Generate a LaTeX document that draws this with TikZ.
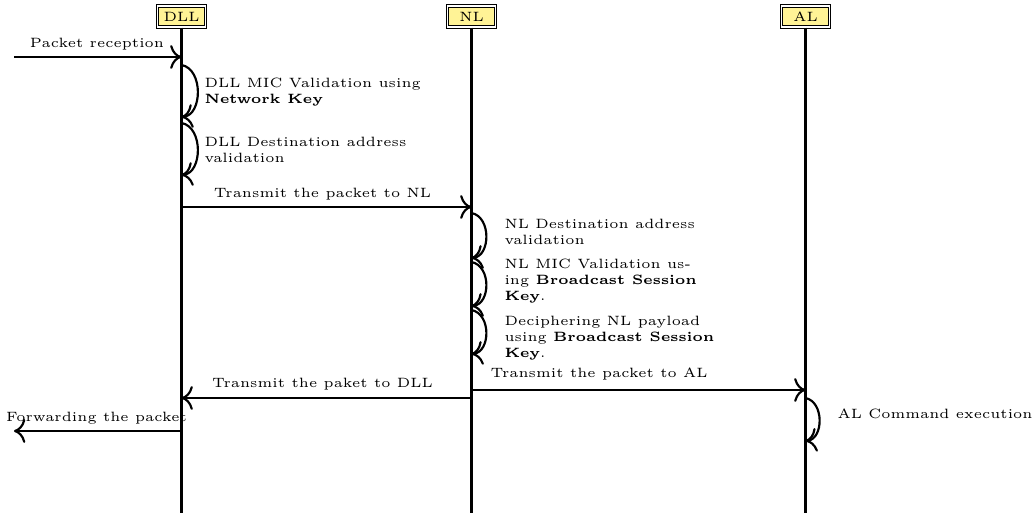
\documentclass[tikz,border=0pt]{standalone}
\usetikzlibrary{arrows.meta}
\definecolor{threadfill}{RGB}{255,243,150}
\begin{document}
\begin{tikzpicture}[x=0.3704pt,y=-0.3704pt,font=\tiny,
  thread/.style={draw, double, line width=0.4pt, double distance=0.4pt, fill=threadfill,
    minimum width=18pt, minimum height=7.8pt, inner sep=0pt},
  life/.style={line width=0.8pt},
  msg/.style={line width=0.8pt, -{Computer Modern Rightarrow[scale=1.25]}},
  lbl/.style={inner sep=0pt, align=left, anchor=north west},
  mlbl/.style={inner sep=0pt, anchor=base}]
\useasboundingbox (0,0) rectangle (1035,518);
% threads
\node[thread] (DLL) at (181.5,16.5) {DLL};
\node[thread] (NL) at (471.5,16.5) {NL};
\node[thread] (AL) at (805.5,16.5) {AL};
\coordinate (DLLend) at (181.5,513);
\coordinate (NLend) at (471.5,513);
\coordinate (ALend) at (805.5,513);
\draw[life] (DLL) -- (DLLend);
\draw[life] (NL) -- (NLend);
\draw[life] (AL) -- (ALend);
% event points
\coordinate (in0) at (14,57);   \coordinate (in1) at (181.5,57);
\coordinate (s1a) at (181.5,65);  \coordinate (s1b) at (181.5,117);
\coordinate (s2a) at (181.5,123); \coordinate (s2b) at (181.5,175);
\coordinate (t1a) at (181.5,207); \coordinate (t1b) at (471.5,207);
\coordinate (n1a) at (471.5,213); \coordinate (n1b) at (471.5,258);
\coordinate (n2a) at (471.5,262); \coordinate (n2b) at (471.5,306);
\coordinate (n3a) at (471.5,310); \coordinate (n3b) at (471.5,354);
\coordinate (t2a) at (471.5,390); \coordinate (t2b) at (805.5,390);
\coordinate (t3a) at (471.5,398); \coordinate (t3b) at (181.5,398);
\coordinate (f0) at (181.5,431);  \coordinate (f1) at (14,431);
\coordinate (a1a) at (805.5,398); \coordinate (a1b) at (805.5,441);
% messages
\draw[msg] (in0) -- (in1);
\node[mlbl] (lin) at (97,48) {Packet reception};
\draw[msg] (s1a) .. controls +(22,4) and +(21,-2) .. (s1b);
\node[lbl] (ls1) at (204,77.5) {DLL MIC Validation using\\\textbf{Network Key}};
\draw[msg] (s2a) .. controls +(22,4) and +(21,-2) .. (s2b);
\node[lbl] (ls2) at (204,136.5) {DLL Destination address\\validation};
\draw[msg] (t1a) -- (t1b);
\node[mlbl] (lt1) at (322.5,198) {Transmit the packet to NL};
\draw[msg] (n1a) .. controls +(20,4) and +(19,-2) .. (n1b);
\node[lbl] (ln1) at (504,218.5) {NL Destination address\\validation};
\draw[msg] (n2a) .. controls +(20,4) and +(19,-2) .. (n2b);
\node[lbl] (ln2) at (504,258.5) {NL MIC Validation us-\\ing \textbf{Broadcast Session}\\\textbf{Key}.};
\draw[msg] (n3a) .. controls +(20,4) and +(19,-2) .. (n3b);
\node[lbl] (ln3) at (504,315.5) {Deciphering NL payload\\using \textbf{Broadcast Session}\\\textbf{Key}.};
\draw[msg] (t2a) -- (t2b);
\node[inner sep=0pt, anchor=base west] (lt2) at (490,378) {Transmit the packet to AL};
\draw[msg] (t3a) -- (t3b);
\node[mlbl] (lt3) at (322.5,388) {Transmit the paket to DLL};
\draw[msg] (f0) -- (f1);
\node[mlbl] (lf) at (96.5,422) {Forwarding the packet};
\draw[msg] (a1a) .. controls +(19,4) and +(18,-2) .. (a1b);
\node[inner sep=0pt, anchor=base west] (la1) at (837,419) {AL Command execution};
\end{tikzpicture}
\end{document}
